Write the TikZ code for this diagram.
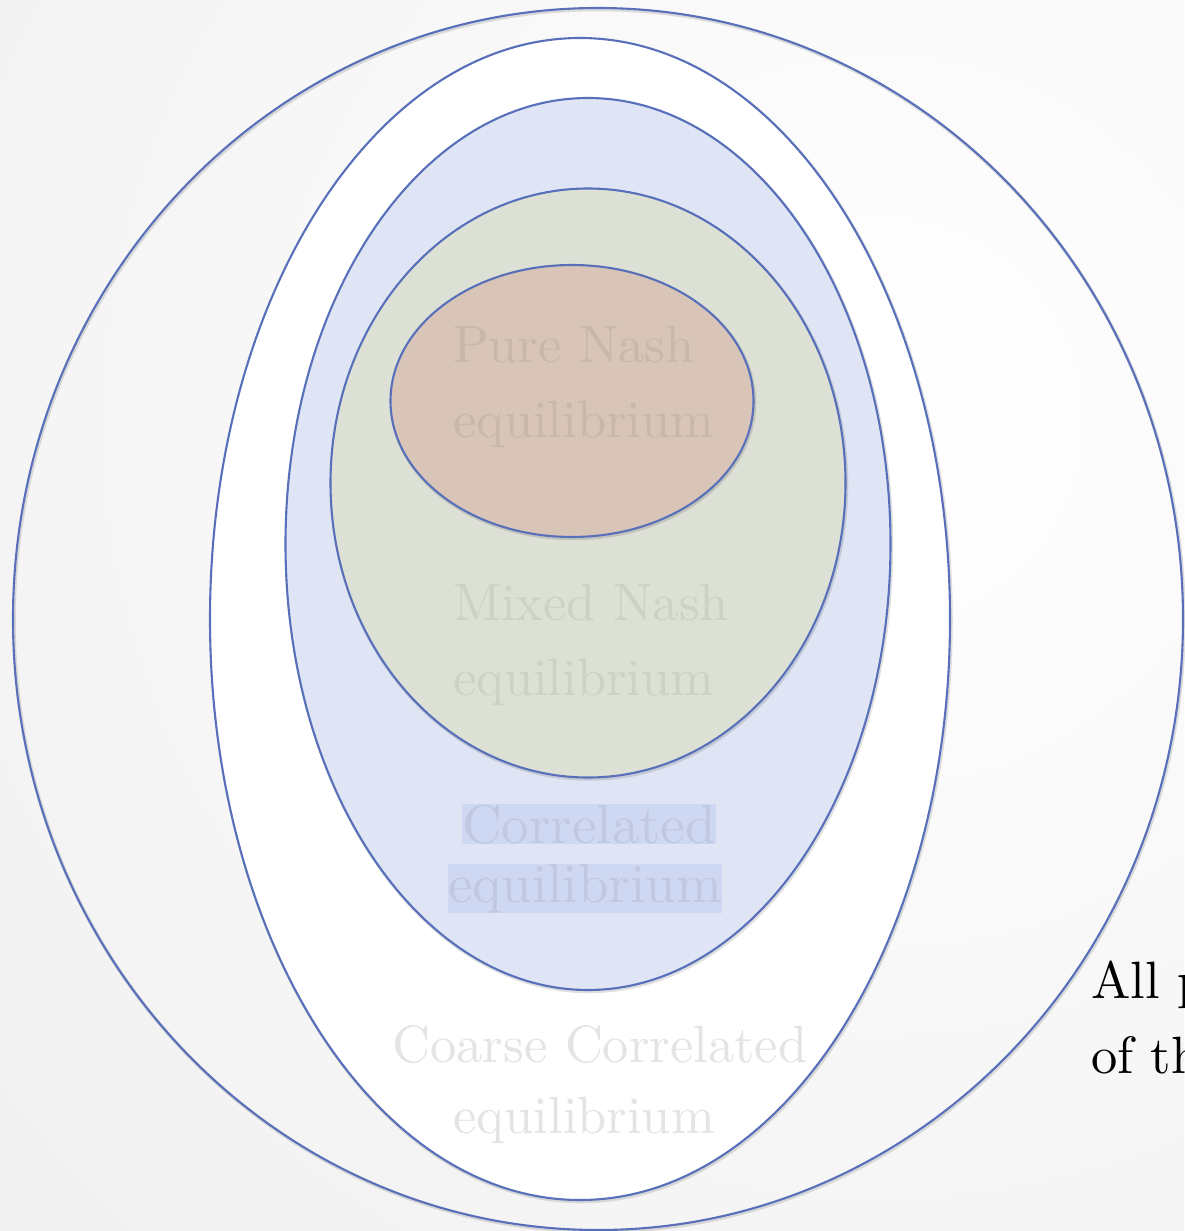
\documentclass[tikz,border=0pt]{standalone}
\usetikzlibrary{shapes.geometric}
\definecolor{ringblue}{RGB}{88,111,186}
\definecolor{corrfill}{RGB}{223,229,244}
\definecolor{mixedfill}{RGB}{221,224,213}
\definecolor{purefill}{RGB}{217,197,184}
\definecolor{puretext}{RGB}{201,184,170}
\definecolor{mixedtext}{RGB}{206,209,198}
\definecolor{corrtext}{RGB}{192,201,225}
\definecolor{corrmark}{RGB}{207,216,243}
\definecolor{coarsetext}{RGB}{228,228,228}

\begin{document}
\begin{tikzpicture}[
    x=1pt, y=-1pt,
    ring/.style={ellipse, draw=ringblue, line width=2.1pt, inner sep=0pt,
        preaction={draw=black, opacity=.12, line width=3.5pt,
            transform canvas={shift={(1pt,-1.5pt)}}}},
    label/.style={font=\fontsize{10}{14.1}\selectfont, scale=5.25, transform shape,
        align=left, anchor=base west, inner sep=0pt},
    markline/.style={font=\fontsize{10}{12}\selectfont, scale=5.5, transform shape,
        text=corrtext, fill=corrmark, inner sep=0pt, anchor=base},
]

% fond
\useasboundingbox (0,0) rectangle (1184,1231);
\begin{scope}
    \clip (0,0) rectangle (1184,1231);
    \shade[inner color=white, outer color=black!12] (880,420) circle (2500pt);
\end{scope}

% ellipses, de l'exterieur vers l'interieur
\node[ring, minimum width=1170pt, minimum height=1222pt] (allset) at (598,619) {};
\node[ring, fill=white, minimum width=740pt, minimum height=1162pt] (coarseset) at (580,619) {};
\node[ring, fill=corrfill, minimum width=605pt, minimum height=892pt] (corrset) at (588,544) {};
\node[ring, fill=mixedfill, minimum width=515pt, minimum height=589pt] (mixedset) at (588,483) {};
\node[ring, fill=purefill, minimum width=363pt, minimum height=272pt] (pureset) at (572,401) {};

% textes (base = derniere ligne)
\node[label, text=puretext] (purelbl) at (452,437) {Pure Nash\\equilibrium};
\node[label, text=mixedtext] (mixedlbl) at (452,695) {Mixed Nash\\equilibrium};
\node[markline] (corrtop) at (589,843) {Correlated};
\node[markline] (corrbot) at (585,902) {equilibrium};
\node[label, text=coarsetext, align=center, anchor=base] (coarselbl) at (600,1133) {Coarse Correlated\\[-0.6pt]equilibrium\hspace*{6pt}};
\node[label, text=black] (alllbl) at (1090,1073) {All possible outcomes\\of the game};

\end{tikzpicture}
\end{document}
